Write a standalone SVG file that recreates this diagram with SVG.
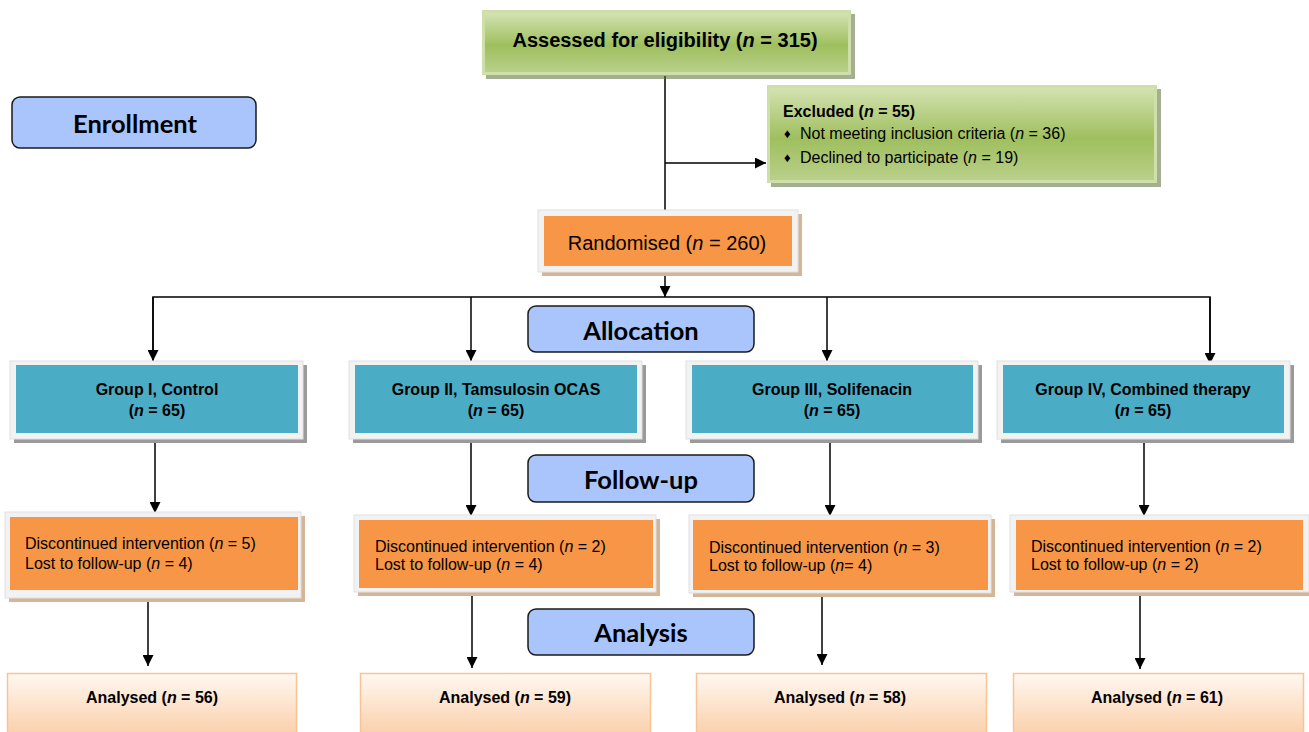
<svg xmlns="http://www.w3.org/2000/svg" width="1309" height="732" viewBox="0 0 1309 732">
<defs>
<linearGradient id="gGreen" x1="0" y1="0" x2="0" y2="1">
<stop offset="0" stop-color="#d3e2b1"/>
<stop offset="0.55" stop-color="#9fbf5e"/>
<stop offset="1" stop-color="#b9d08a"/>
</linearGradient>
<linearGradient id="gPeach" x1="0" y1="0" x2="0" y2="1">
<stop offset="0" stop-color="#fff8f2"/>
<stop offset="1" stop-color="#fbcfa9"/>
</linearGradient>
<marker id="arr" viewBox="0 0 10 10" refX="10" refY="5" markerWidth="11" markerHeight="11" markerUnits="userSpaceOnUse" orient="auto">
<path d="M0,0 L10,5 L0,10 z" fill="#000"/>
</marker>
</defs>
<style>
.t{font-family:"Liberation Sans",Arial,sans-serif;fill:#000}
.b{font-weight:bold}
.lab{font-family:Lato,"Open Sans",sans-serif;font-weight:bold;font-size:25.5px;fill:#000}
.blue{fill:#a9c5fb;stroke:#1a1a1a;stroke-width:1.5}
.frame{fill:#f2f2f2;stroke:#e0e0e0;stroke-width:1}
.shg{fill:#9a9a9a}
.sho{fill:#d4b596}
.teal{fill:#4bacc6}
.org{fill:#f79646}
.ln{stroke:#000;stroke-width:1.5;fill:none}
</style>
<rect width="1309" height="732" fill="#fff"/>

<g id="connectors">
<line class="ln" x1="665" y1="76" x2="665" y2="210"/>
<line class="ln" x1="665" y1="163" x2="766" y2="163" marker-end="url(#arr)"/>
<line class="ln" x1="665" y1="272" x2="665" y2="297" marker-end="url(#arr)"/>
<polyline class="ln" points="153,360 153,297 1210,297 1210,363"/>
<line class="ln" x1="153" y1="297" x2="153" y2="361" marker-end="url(#arr)"/>
<line class="ln" x1="471" y1="297" x2="471" y2="361" marker-end="url(#arr)"/>
<line class="ln" x1="827" y1="297" x2="827" y2="361" marker-end="url(#arr)"/>
<line class="ln" x1="1210" y1="297" x2="1210" y2="364" marker-end="url(#arr)"/>
<line class="ln" x1="155" y1="440" x2="155" y2="513" marker-end="url(#arr)"/>
<line class="ln" x1="471" y1="440" x2="471" y2="516" marker-end="url(#arr)"/>
<line class="ln" x1="830" y1="440" x2="830" y2="516" marker-end="url(#arr)"/>
<line class="ln" x1="1144" y1="440" x2="1144" y2="516" marker-end="url(#arr)"/>
<line class="ln" x1="148" y1="598" x2="148" y2="666" marker-end="url(#arr)"/>
<line class="ln" x1="472" y1="596" x2="472" y2="668" marker-end="url(#arr)"/>
<line class="ln" x1="822" y1="596" x2="822" y2="665" marker-end="url(#arr)"/>
<line class="ln" x1="1140" y1="596" x2="1140" y2="669" marker-end="url(#arr)"/>
</g>

<g id="assessed">
<rect x="486" y="14" width="369" height="65" fill="#5a6b3a" opacity="0.55"/>
<rect x="482" y="10" width="369" height="65" fill="#cfdfaa"/>
<rect x="485" y="13" width="363" height="59" fill="url(#gGreen)"/>
<text class="t b" x="665" y="47" font-size="20" text-anchor="middle">Assessed for eligibility (<tspan font-style="italic">n</tspan> = 315)</text>
</g>

<g id="excluded">
<rect x="771" y="89" width="390" height="98" fill="#5a6b3a" opacity="0.55"/>
<rect x="767" y="85" width="390" height="98" fill="#cfdfaa"/>
<rect x="770" y="88" width="384" height="92" fill="url(#gGreen)"/>
<text class="t b" x="783" y="117" font-size="16">Excluded (<tspan font-style="italic">n</tspan> = 55)</text>
<text class="t" x="784" y="138" font-size="13">♦</text>
<text class="t" x="800" y="139" font-size="16">Not meeting inclusion criteria (<tspan font-style="italic">n</tspan> = 36)</text>
<text class="t" x="784" y="162" font-size="13">♦</text>
<text class="t" x="800" y="163" font-size="16">Declined to participate (<tspan font-style="italic">n</tspan> = 19)</text>
</g>

<g id="enrollment">
<rect class="blue" x="12" y="97" width="244" height="51" rx="8"/>
<text class="lab" x="135" y="133" text-anchor="middle">Enrollment</text>
</g>

<g id="randomised">
<rect class="sho" x="542" y="214" width="260" height="62"/>
<rect class="frame" x="538" y="210" width="260" height="62"/>
<rect class="org" x="544" y="216" width="248" height="50"/>
<text class="t" x="667" y="250" font-size="20" text-anchor="middle">Randomised (<tspan font-style="italic">n</tspan> = 260)</text>
</g>

<g id="allocation">
<rect class="blue" x="528" y="306" width="226" height="46" rx="8"/>
<text class="lab" x="641" y="340" text-anchor="middle">Allocation</text>
</g>

<g id="group1">
<rect class="shg" x="14" y="365" width="293" height="78"/>
<rect class="frame" x="10" y="361" width="293" height="78"/>
<rect class="teal" x="16" y="365" width="282" height="68"/>
<text class="t b" x="157" y="395" font-size="16" text-anchor="middle">Group I, Control</text>
<text class="t b" x="157" y="416" font-size="16" text-anchor="middle">(<tspan font-style="italic">n</tspan> = 65)</text>
</g>

<g id="group2">
<rect class="shg" x="353" y="365" width="293" height="78"/>
<rect class="frame" x="349" y="361" width="293" height="78"/>
<rect class="teal" x="355" y="365" width="282" height="68"/>
<text class="t b" x="496" y="395" font-size="16" text-anchor="middle">Group II, Tamsulosin OCAS</text>
<text class="t b" x="496" y="416" font-size="16" text-anchor="middle">(<tspan font-style="italic">n</tspan> = 65)</text>
</g>

<g id="group3">
<rect class="shg" x="690" y="365" width="292" height="78"/>
<rect class="frame" x="686" y="361" width="292" height="78"/>
<rect class="teal" x="692" y="365" width="281" height="68"/>
<text class="t b" x="832" y="395" font-size="16" text-anchor="middle">Group III, Solifenacin</text>
<text class="t b" x="832" y="416" font-size="16" text-anchor="middle">(<tspan font-style="italic">n</tspan> = 65)</text>
</g>

<g id="group4">
<rect class="shg" x="1001" y="365" width="293" height="78"/>
<rect class="frame" x="997" y="361" width="293" height="78"/>
<rect class="teal" x="1003" y="365" width="281" height="68"/>
<text class="t b" x="1143" y="395" font-size="16" text-anchor="middle">Group IV, Combined therapy</text>
<text class="t b" x="1143" y="416" font-size="16" text-anchor="middle">(<tspan font-style="italic">n</tspan> = 65)</text>
</g>

<g id="followup">
<rect class="blue" x="528" y="455" width="226" height="47" rx="8"/>
<text class="lab" x="641" y="489" text-anchor="middle">Follow-up</text>
</g>

<g id="disc1">
<rect class="sho" x="9" y="516" width="296" height="86"/>
<rect class="frame" x="5" y="512" width="296" height="86"/>
<rect class="org" x="10" y="517" width="288" height="73"/>
<text class="t" x="25" y="549" font-size="16">Discontinued intervention (<tspan font-style="italic">n</tspan> = 5)</text>
<text class="t" x="25" y="569" font-size="16">Lost to follow-up (<tspan font-style="italic">n</tspan> = 4)</text>
</g>

<g id="disc2">
<rect class="sho" x="358" y="519" width="302" height="77"/>
<rect class="frame" x="354" y="515" width="302" height="77"/>
<rect class="org" x="359" y="520" width="294" height="68"/>
<text class="t" x="375" y="552" font-size="16">Discontinued intervention (<tspan font-style="italic">n</tspan> = 2)</text>
<text class="t" x="375" y="570" font-size="16">Lost to follow-up (<tspan font-style="italic">n</tspan> = 4)</text>
</g>

<g id="disc3">
<rect class="sho" x="693" y="519" width="302" height="78"/>
<rect class="frame" x="689" y="515" width="302" height="78"/>
<rect class="org" x="693" y="520" width="295" height="70"/>
<text class="t" x="709" y="553" font-size="16">Discontinued intervention (<tspan font-style="italic">n</tspan> = 3)</text>
<text class="t" x="709" y="571" font-size="16">Lost to follow-up (<tspan font-style="italic">n</tspan>= 4)</text>
</g>

<g id="disc4">
<rect class="sho" x="1014" y="519" width="295" height="77"/>
<rect class="frame" x="1010" y="515" width="299" height="77"/>
<rect class="org" x="1016" y="520" width="287" height="70"/>
<text class="t" x="1031" y="552" font-size="16">Discontinued intervention (<tspan font-style="italic">n</tspan> = 2)</text>
<text class="t" x="1031" y="570" font-size="16">Lost to follow-up (<tspan font-style="italic">n</tspan> = 2)</text>
</g>

<g id="analysis">
<rect class="blue" x="528" y="609" width="226" height="46" rx="8"/>
<text class="lab" x="641" y="642" text-anchor="middle">Analysis</text>
</g>

<g id="analysed1">
<rect x="7.5" y="673.5" width="289" height="62" fill="url(#gPeach)" stroke="#f9c393" stroke-width="1.5"/>
<text class="t b" x="152" y="703" font-size="16" text-anchor="middle">Analysed (<tspan font-style="italic">n</tspan> = 56)</text>
</g>
<g id="analysed2">
<rect x="360.5" y="673.5" width="290" height="62" fill="url(#gPeach)" stroke="#f9c393" stroke-width="1.5"/>
<text class="t b" x="505" y="703" font-size="16" text-anchor="middle">Analysed (<tspan font-style="italic">n</tspan> = 59)</text>
</g>
<g id="analysed3">
<rect x="696.5" y="673.5" width="290" height="62" fill="url(#gPeach)" stroke="#f9c393" stroke-width="1.5"/>
<text class="t b" x="840" y="703" font-size="16" text-anchor="middle">Analysed (<tspan font-style="italic">n</tspan> = 58)</text>
</g>
<g id="analysed4">
<rect x="1013.5" y="673.5" width="290" height="62" fill="url(#gPeach)" stroke="#f9c393" stroke-width="1.5"/>
<text class="t b" x="1157" y="703" font-size="16" text-anchor="middle">Analysed (<tspan font-style="italic">n</tspan> = 61)</text>
</g>
</svg>
